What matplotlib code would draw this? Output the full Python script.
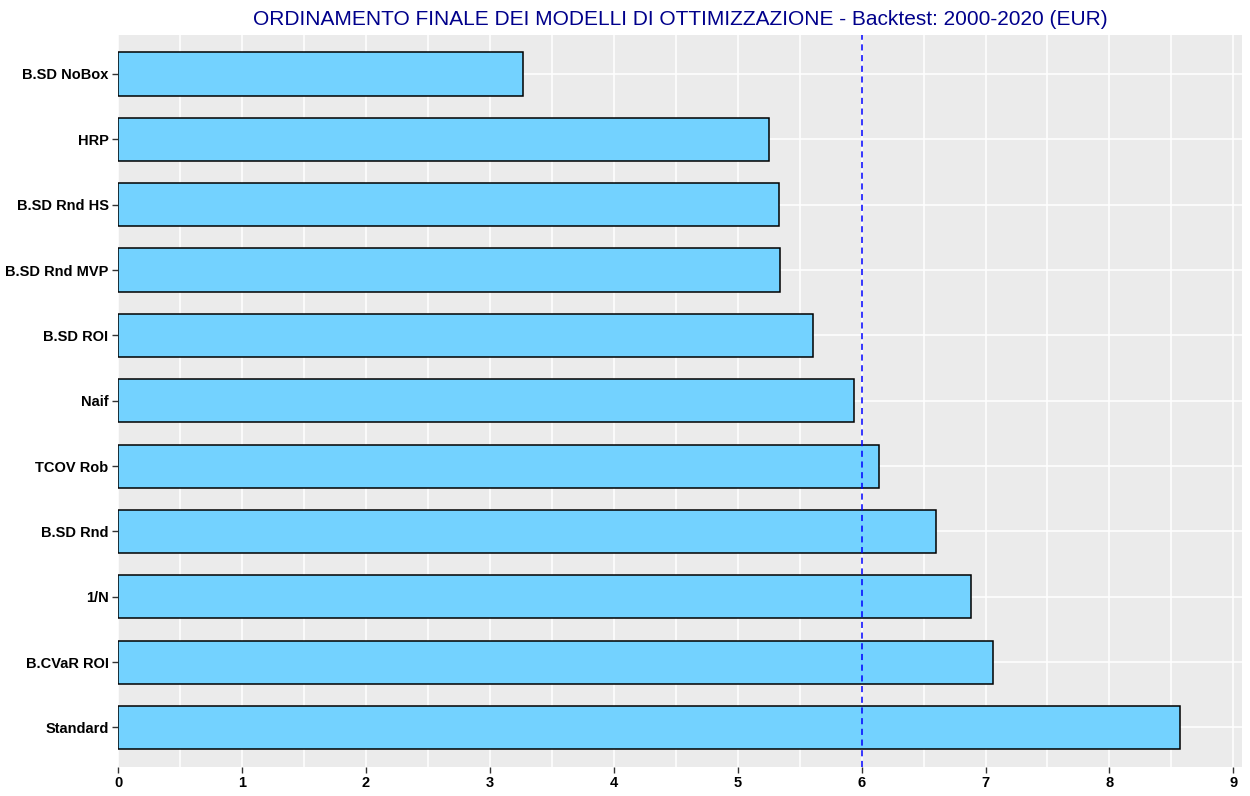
import matplotlib.pyplot as plt
import numpy as np

plt.rcParams['font.family'] = ['Liberation Sans', 'DejaVu Sans']

# models, top to bottom as in the chart
models = ["B.SD NoBox", "HRP", "B.SD Rnd HS", "B.SD Rnd MVP", "B.SD ROI", "Naif",
          "TCOV Rob", "B.SD Rnd", "1/N", "B.CVaR ROI", "Standard"]
scores = [3.27, 5.25, 5.33, 5.34, 5.61, 5.94, 6.14, 6.60, 6.88, 7.06, 8.57]
ref_line = 6
x_ticks = list(range(0, 10))

fig = plt.figure(figsize=(12.5, 7.96), dpi=100)
ax = fig.add_axes([0.0946, 0.0368, 0.899, 0.9195])
ax.set_facecolor('#EBEBEB')

pos = np.arange(len(models))
ax.barh(pos, scores, height=0.66, color='#73D2FF', edgecolor='black', linewidth=1.1, zorder=3)
ax.axvline(ref_line, color='blue', linestyle=(0, (4, 3)), linewidth=1.1, zorder=4)

ax.set_xlim(0, 9.07)
ax.set_ylim(len(models) - 0.4, -0.6)
ax.set_yticks(pos, labels=models)
ax.set_xticks(x_ticks, labels=[str(t) for t in x_ticks])
ax.set_xticks(np.arange(0.5, 9.5, 1), minor=True)

ax.grid(True, which='both', axis='x', color='white', linewidth=1.1, zorder=0)
ax.grid(True, which='major', axis='y', color='white', linewidth=1.1, zorder=0)
ax.tick_params(axis='x', which='minor', length=0)
ax.tick_params(axis='both', which='major', length=4, width=1, color='#333333', pad=3,
               labelsize=10.5)
for lab in ax.get_xticklabels() + ax.get_yticklabels():
    lab.set_fontweight('bold')
    lab.set_color('black')

for s in ax.spines.values():
    s.set_visible(False)

ax.set_title("ORDINAMENTO FINALE DEI MODELLI DI OTTIMIZZAZIONE - Backtest: 2000-2020 (EUR)",
             color='#00008B', fontsize=15, pad=7)

plt.savefig("out.png", dpi=100)
